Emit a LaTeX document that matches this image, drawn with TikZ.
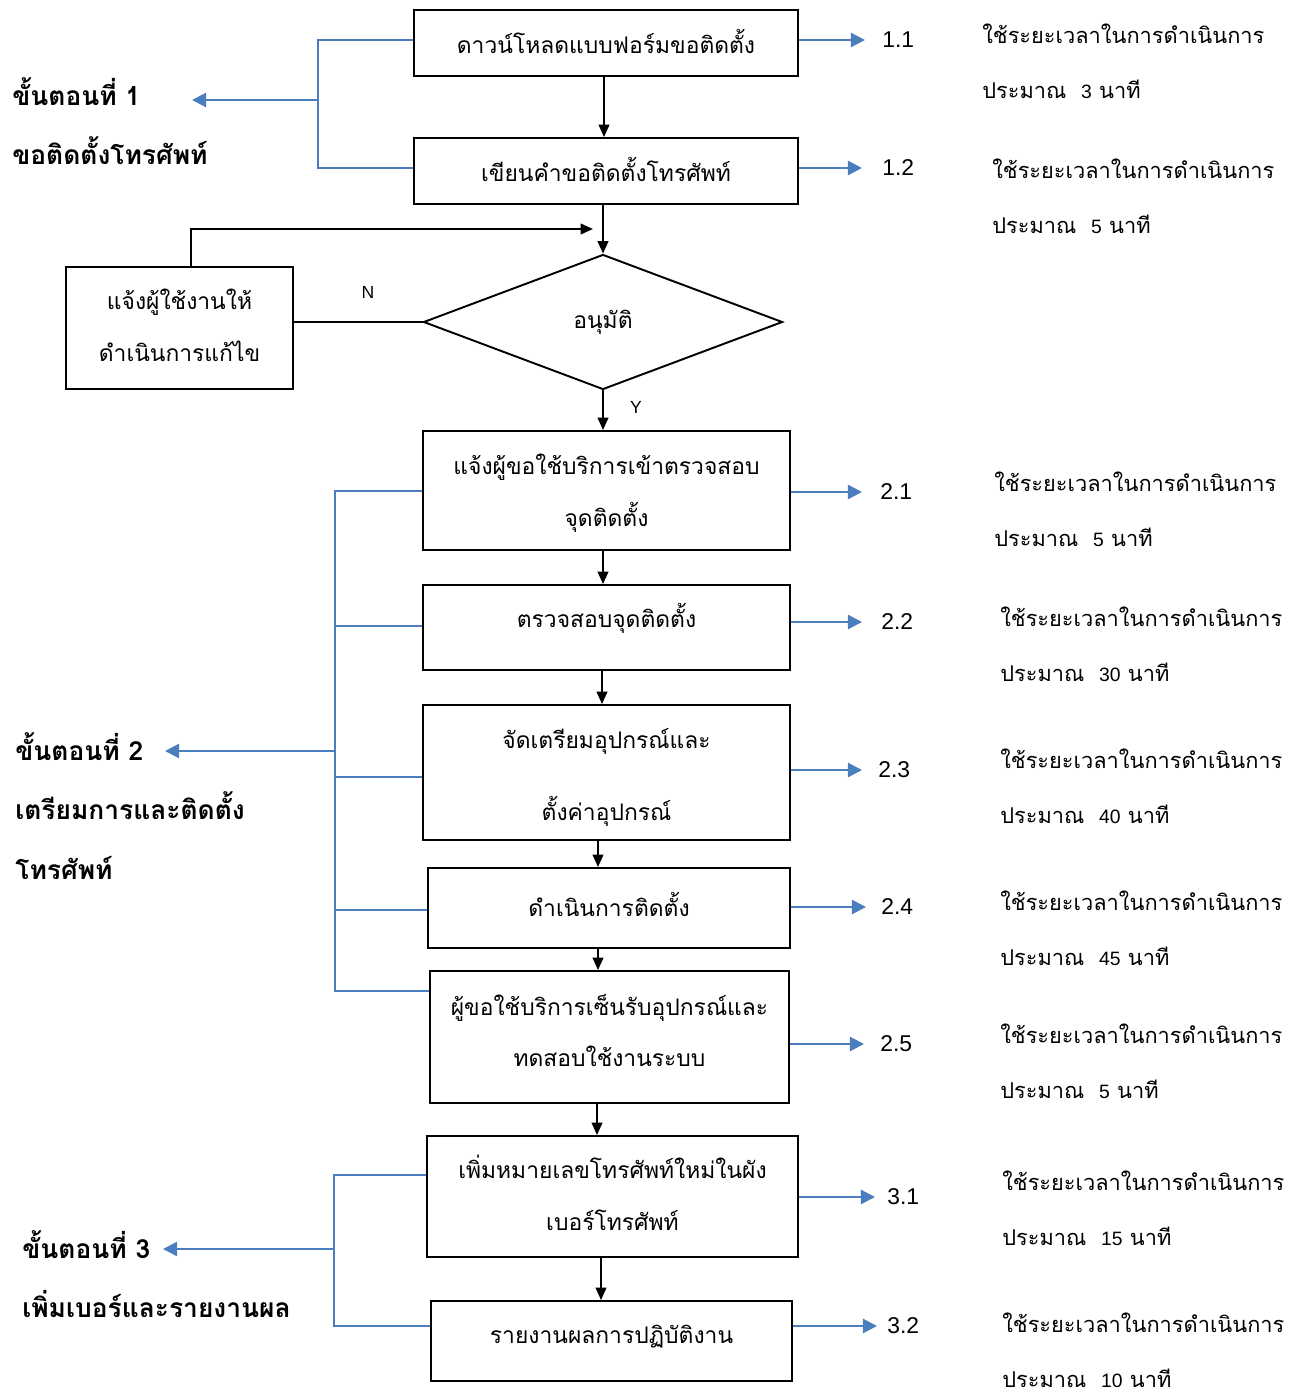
\documentclass[tikz,border=0pt]{standalone}
\usepackage{fontspec}
\setmainfont[Script=Thai]{Loma}
\setsansfont{Liberation Sans}
\usetikzlibrary{arrows.meta,fit,shapes.geometric}
\definecolor{bl}{RGB}{74,126,190}
\begin{document}
\begin{tikzpicture}[x=0.2mm,y=-0.2mm,
  box/.style={draw, line width=1.1pt, inner sep=0pt},
  btxt/.style={inner sep=0pt, align=center, font=\fontsize{13}{29.5}\selectfont},
  bar/.style={draw=bl, line width=1.3pt},
  barr/.style={bar, -{Triangle[length=8pt,width=8pt]}},
  karr/.style={line width=1.1pt, -{Triangle[length=7pt,width=6pt]}},
  num/.style={anchor=west, inner sep=0pt, font=\sffamily\fontsize{13}{15}\selectfont},
  note/.style={anchor=west, inner sep=0pt, align=left, font=\fontsize{12.4}{31.5}\selectfont},
  stage/.style={anchor=west, inner sep=0pt, align=left, font=\bfseries\fontsize{15}{34}\selectfont},
  yn/.style={inner sep=0pt, font=\sffamily\fontsize{10}{12}\selectfont}]
\useasboundingbox (0,0) rectangle (1300,1396);
\newcommand{\dg}[1]{{\sffamily\fontsize{11}{12}\selectfont #1}}

% boxes
\node[box, fit={(414,10) (798,76)}] (bA) {};
\node[btxt] (tA) at (606,41) {ดาวน์โหลดแบบฟอร์มขอติดตั้ง};
\node[box, fit={(414,138) (798,204)}] (bB) {};
\node[btxt] (tB) at (606,169) {เขียนคำขอติดตั้งโทรศัพท์};
\node[draw, diamond, line width=1.1pt, inner sep=0pt, minimum width=71.8mm, minimum height=27mm, font=\fontsize{13}{16}\selectfont] (dec) at (603,322) {อนุมัติ};
\node[box, fit={(66,267) (293,389)}] (fix) {};
\node[btxt] (tfix) at (179.5,325) {แจ้งผู้ใช้งานให้\\ดำเนินการแก้ไข};
\node[box, fit={(423,431) (790,550)}] (bC) {};
\node[btxt] (tC) at (606.5,493.5) {แจ้งผู้ขอใช้บริการเข้าตรวจสอบ\\จุดติดตั้ง};
\node[box, fit={(423,585) (790,670)}] (bD) {};
\node[btxt] (tD) at (606.5,618) {ตรวจสอบจุดติดตั้ง};
\node[box, fit={(423,705) (790,840)}] (bE) {};
\node[btxt] (tE) at (606.5,777.5) {จัดเตรียมอุปกรณ์และ\\[11pt]ตั้งค่าอุปกรณ์};
\node[box, fit={(428,868) (790,948)}] (bF) {};
\node[btxt] (tF) at (609,904) {ดำเนินการติดตั้ง};
\node[box, fit={(430,971) (789,1103)}] (bG) {};
\node[btxt] (tG) at (609.5,1030.5) {ผู้ขอใช้บริการเซ็นรับอุปกรณ์และ\\ทดสอบใช้งานระบบ};
\node[box, fit={(427,1136) (798,1257)}] (bH) {};
\node[btxt] (tH) at (612.5,1193) {เพิ่มหมายเลขโทรศัพท์ใหม่ในผัง\\เบอร์โทรศัพท์};
\node[box, fit={(431,1301) (792,1381)}] (bI) {};
\node[btxt] (tI) at (611.5,1337) {รายงานผลการปฏิบัติงาน};

% flow arrows
\draw[karr] (bA.south -| 604,0) -- (bB.north -| 604,0);
\draw[karr] (dec.north |- bB.south) -- (dec.north);
\coordinate (fb) at (593,229);
\draw[line width=1.1pt] (dec.west) -- (dec.west -| fix.east);
\draw[karr] (fix.north -| 191,0) |- (fb);
\node[yn] (lN) at (368,292) {N};
\node[yn] (lY) at (636,407) {Y};
\draw[karr] (dec.south) -- (dec.south |- bC.north);
\draw[karr] (bC.south -| 603,0) -- (bD.north -| 603,0);
\draw[karr] (bD.south -| 602,0) -- (bE.north -| 602,0);
\draw[karr] (bE.south -| 598,0) -- (bF.north -| 598,0);
\draw[karr] (bF.south -| 598,0) -- (bG.north -| 598,0);
\draw[karr] (bG.south -| 597,0) -- (bH.north -| 597,0);
\draw[karr] (bH.south -| 601,0) -- (bI.north -| 601,0);

% stage labels
\node[stage] (s1) at (12,121) {ขั้นตอนที่ 1\\ขอติดตั้งโทรศัพท์};
\node[stage] (s2) at (15,806) {ขั้นตอนที่ 2\\เตรียมการและติดตั้ง\\โทรศัพท์};
\node[stage] (s3) at (22,1274) {ขั้นตอนที่ 3\\เพิ่มเบอร์และรายงานผล};
\coordinate (t1) at (192,100);
\coordinate (t2) at (165,751);
\coordinate (t3) at (163,1249);

% stage brackets
\draw[bar] (bA.west |- 0,40) -| (318,168) -- (bB.west |- 0,168);
\draw[barr] (318,100) -- (t1);
\draw[bar] (bC.west |- 0,491) -| (335,991) -- (bG.west |- 0,991);
\draw[bar] (335,626) -- (bD.west |- 0,626);
\draw[bar] (335,777) -- (bE.west |- 0,777);
\draw[bar] (335,910) -- (bF.west |- 0,910);
\draw[barr] (335,751) -- (t2);
\draw[bar] (bH.west |- 0,1175) -| (334,1326) -- (bI.west |- 0,1326);
\draw[barr] (334,1249) -- (t3);

% numbers
\coordinate (e11) at (865,40);  \node[num] (n11) at (882,40) {1.1};
\coordinate (e12) at (862,168); \node[num] (n12) at (882,168) {1.2};
\coordinate (e21) at (862,492); \node[num] (n21) at (880,492) {2.1};
\coordinate (e22) at (862,622); \node[num] (n22) at (881,622) {2.2};
\coordinate (e23) at (862,770); \node[num] (n23) at (878,770) {2.3};
\coordinate (e24) at (866,907); \node[num] (n24) at (881,907) {2.4};
\coordinate (e25) at (864,1044);\node[num] (n25) at (880,1044) {2.5};
\coordinate (e31) at (875,1197);\node[num] (n31) at (887,1197) {3.1};
\coordinate (e32) at (877,1326);\node[num] (n32) at (887,1326) {3.2};
\draw[barr] (bA.east |- e11) -- (e11);
\draw[barr] (bB.east |- e12) -- (e12);
\draw[barr] (bC.east |- e21) -- (e21);
\draw[barr] (bD.east |- e22) -- (e22);
\draw[barr] (bE.east |- e23) -- (e23);
\draw[barr] (bF.east |- e24) -- (e24);
\draw[barr] (bG.east |- e25) -- (e25);
\draw[barr] (bH.east |- e31) -- (e31);
\draw[barr] (bI.east |- e32) -- (e32);

% notes
\node[note] (m11) at (982,61)  {ใช้ระยะเวลาในการดำเนินการ\\ประมาณ~~\dg{3} นาที};
\node[note] (m12) at (992,196) {ใช้ระยะเวลาในการดำเนินการ\\ประมาณ~~\dg{5} นาที};
\node[note] (m21) at (994,509) {ใช้ระยะเวลาในการดำเนินการ\\ประมาณ~~\dg{5} นาที};
\node[note] (m22) at (1000,644) {ใช้ระยะเวลาในการดำเนินการ\\ประมาณ~~\dg{30} นาที};
\node[note] (m23) at (1000,786) {ใช้ระยะเวลาในการดำเนินการ\\ประมาณ~~\dg{40} นาที};
\node[note] (m24) at (1000,928) {ใช้ระยะเวลาในการดำเนินการ\\ประมาณ~~\dg{45} นาที};
\node[note] (m25) at (1000,1061) {ใช้ระยะเวลาในการดำเนินการ\\ประมาณ~~\dg{5} นาที};
\node[note] (m31) at (1002,1208) {ใช้ระยะเวลาในการดำเนินการ\\ประมาณ~~\dg{15} นาที};
\node[note] (m32) at (1002,1350) {ใช้ระยะเวลาในการดำเนินการ\\ประมาณ~~\dg{10} นาที};
\end{tikzpicture}
\end{document}
